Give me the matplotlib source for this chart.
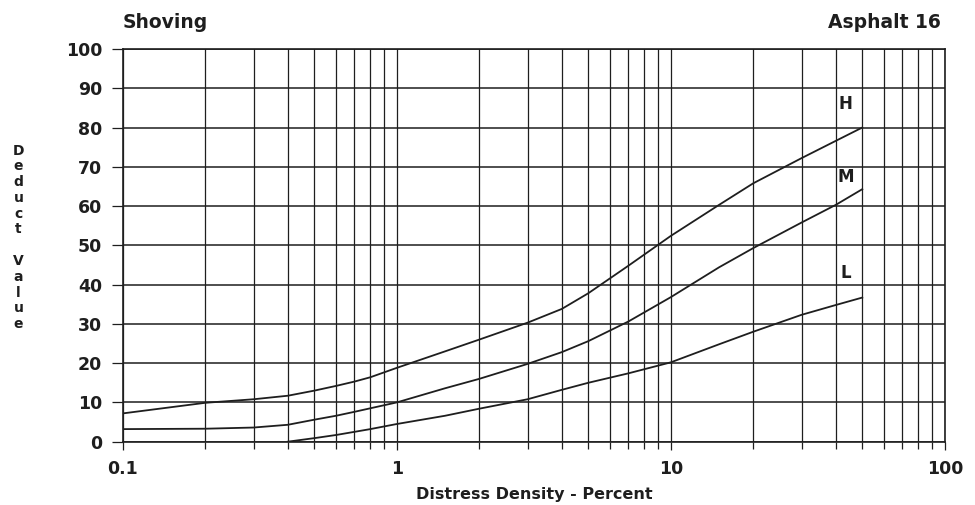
import matplotlib
matplotlib.use('Agg')
import matplotlib.pyplot as plt
from matplotlib.ticker import LogLocator, NullFormatter, FixedLocator, FixedFormatter

# Distress density (percent) and deduct values
density = [0.1, 0.2, 0.3, 0.4, 0.5, 0.6, 0.7, 0.8, 1, 1.5, 2, 3, 4, 5, 7, 10,
           15, 20, 30, 40, 50]
high = [7.2, 9.9, 10.8, 11.7, 13.0, 14.2, 15.3, 16.4, 18.8, 23.0, 26.0, 30.3,
        33.8, 37.8, 44.8, 52.4, 60.3, 65.8, 72.2, 76.6, 80.0]
medium = [3.2, 3.3, 3.6, 4.3, 5.6, 6.6, 7.6, 8.5, 10.0, 13.6, 16.0, 19.8,
          22.8, 25.6, 30.6, 36.8, 44.4, 49.3, 55.8, 60.3, 64.3]
low_density = [0.4, 0.5, 0.6, 0.7, 0.8, 1, 1.5, 2, 3, 4, 5, 7, 10, 15, 20,
               30, 40, 50]
low = [0, 0.9, 1.7, 2.5, 3.2, 4.5, 6.6, 8.4, 10.8, 13.2, 15.0, 17.4, 20.2,
       24.8, 28.0, 32.3, 34.8, 36.7]

curve_labels = ['H', 'M', 'L']
label_y = [86, 67.5, 43]

yticks = [0, 10, 20, 30, 40, 50, 60, 70, 80, 90, 100]
xtick_vals = [0.1, 1, 10, 100]
xtick_text = ['0.1', '1', '10', '100']

plt.rcParams['font.family'] = 'DejaVu Sans'
ink = '#1e1e1e'

fig = plt.figure(figsize=(9.75, 5.05), dpi=100)
ax = fig.add_axes([0.126, 0.1254, 0.843, 0.7776])

ax.plot(density, high, color=ink, lw=1.3)
ax.plot(density, medium, color=ink, lw=1.3)
ax.plot(low_density, low, color=ink, lw=1.3)

for lab, y in zip(curve_labels, label_y):
    ax.text(43.5, y, lab, ha='center', va='center', fontsize=12,
            fontweight='bold', color=ink)

ax.set_xscale('log')
ax.set_xlim(0.1, 100)
ax.set_ylim(0, 100)

ax.xaxis.set_major_locator(FixedLocator(xtick_vals))
ax.xaxis.set_major_formatter(FixedFormatter(xtick_text))
ax.xaxis.set_minor_locator(LogLocator(base=10, subs=range(2, 10)))
ax.xaxis.set_minor_formatter(NullFormatter())
ax.set_yticks(yticks)

ax.grid(True, which='both', axis='x', color=ink, lw=0.9)
ax.grid(True, which='major', axis='y', color=ink, lw=1.1)

ax.tick_params(axis='both', which='both', direction='out', color=ink,
               labelsize=12.5, labelcolor=ink, width=0.9)
ax.tick_params(axis='x', which='major', length=6, pad=7)
ax.tick_params(axis='x', which='minor', length=5)
ax.tick_params(axis='y', which='major', length=8, pad=7)
for t in ax.get_xticklabels() + ax.get_yticklabels():
    t.set_fontweight('bold')

for s in ax.spines.values():
    s.set_color(ink)
    s.set_linewidth(1.2)

ax.set_xlabel('Distress Density - Percent', fontsize=11.5, fontweight='bold',
              color=ink, labelpad=7)

fig.text(0.126, 0.955, 'Shoving', fontsize=13.5, fontweight='bold', color=ink,
         ha='left', va='center')
fig.text(0.965, 0.955, 'Asphalt 16', fontsize=13.5, fontweight='bold', color=ink,
         ha='right', va='center')
fig.text(0.019, 0.53, '\n'.join('Deduct Value'.replace(' ', '\u2009')),
         fontsize=10, fontweight='bold', color=ink, ha='center', va='center',
         linespacing=1.16)

plt.savefig('out.png', dpi=100)
